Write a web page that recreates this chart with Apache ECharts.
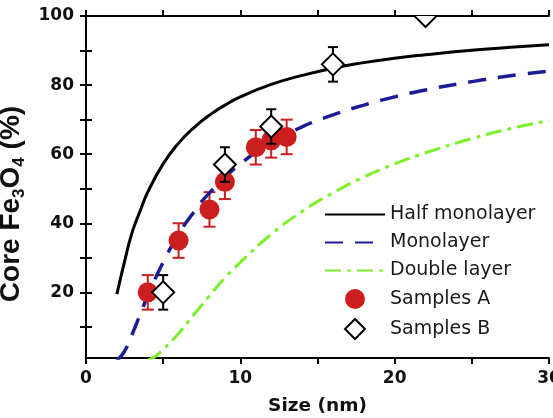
<!DOCTYPE html>
<html lang="en">
<head>
    <meta charset="UTF-8">
    <title>Core Fe3O4 vs size</title>
    <script src="https://cdn.jsdelivr.net/npm/echarts@6/dist/echarts.min.js"></script>
    <style>
        html, body { margin: 0; padding: 0; background: #fff; }
        #chart { width: 553px; height: 418px; }
    </style>
</head>
<body>
<div id="chart"></div>
<script>
    // model curves
    const halfX = [2, 2.5, 3, 3.5, 4, 5, 6, 7, 8, 9, 10, 12, 14, 16, 18, 20, 22, 25, 28, 30];
    const halfY = [19.5, 29, 37.5, 43.5, 49, 57.2, 63.2, 67.7, 71.3, 74.2, 76.6, 80.2, 82.8, 84.9, 86.5, 87.8, 88.8, 90.1, 91.1, 91.7];

    const monoX = [2, 2.5, 3, 3.5, 4, 5, 6, 7, 8, 10, 12, 14, 16, 18, 20, 22, 25, 28, 30];
    const monoY = [0.3, 3, 8, 13.5, 19, 28.7, 36.8, 43.3, 48.8, 57.2, 63.2, 67.9, 71.4, 74.2, 76.6, 78.6, 81, 83, 84];

    const dblX = [4, 4.5, 5, 6, 7, 8, 9, 10, 12, 14, 16, 18, 20, 22, 25, 28, 30];
    const dblY = [0.3, 1.5, 3.5, 8.1, 13.6, 19, 24.2, 28.7, 36.8, 43.4, 48.8, 53.4, 57.2, 60.4, 64.5, 67.9, 69.7];

    // measured samples
    const aX = [4, 6, 8, 9, 11, 12, 13];
    const aY = [20, 35, 44, 52, 62, 64, 65];
    const aErr = [5, 5, 5, 5, 5, 5, 5];

    const bX = [5, 9, 12, 16, 22];
    const bY = [20, 57, 68, 86, 100];
    const bErr = [5, 5, 5, 5, 0];

    const yLabels = [20, 40, 60, 80, 100];
    const yTicks = [10, 20, 30, 40, 50, 60, 70, 80, 90, 100];

    const zip = (xs, ys) => xs.map((x, i) => [x, ys[i]]);
    const errData = (xs, ys, es) => xs.map((x, i) => [x, ys[i], ys[i] - es[i], ys[i] + es[i]]);

    // vertical bar with caps; optionally a hollow diamond on top, clipped to the plot
    function errorBar(color, capW, diamond) {
        return function (params, api) {
            const x = api.value(0);
            const c = api.coord([x, api.value(1)]);
            const lo = api.coord([x, api.value(2)]);
            const hi = api.coord([x, api.value(3)]);
            const style = { stroke: color, lineWidth: 2 };
            const children = [];
            if (api.value(3) > api.value(2)) {
                children.push(
                    { type: 'line', shape: { x1: lo[0], y1: lo[1], x2: hi[0], y2: hi[1] }, style: style },
                    { type: 'line', shape: { x1: lo[0] - capW, y1: lo[1], x2: lo[0] + capW, y2: lo[1] }, style: style },
                    { type: 'line', shape: { x1: hi[0] - capW, y1: hi[1], x2: hi[0] + capW, y2: hi[1] }, style: style }
                );
            }
            if (diamond) {
                const r = 11;
                children.push({
                    type: 'polygon',
                    shape: { points: [[c[0], c[1] - r], [c[0] + r, c[1]], [c[0], c[1] + r], [c[0] - r, c[1]]] },
                    style: { fill: '#fff', stroke: '#000', lineWidth: 2 }
                });
            }
            const cs = params.coordSys;
            return {
                type: 'group',
                clipPath: { type: 'rect', shape: { x: cs.x, y: cs.y, width: cs.width, height: cs.height } },
                children: children
            };
        };
    }

    const tickFont = { fontFamily: 'DejaVu Sans', fontWeight: 'bold', fontSize: 17, color: '#111' };
    const axisLine = { show: true, lineStyle: { color: '#000', width: 2 } };
    const axisTick = { show: true, length: 6, lineStyle: { color: '#000', width: 2 } };
    const minorTick = { show: true, splitNumber: 2, length: 6, lineStyle: { color: '#000', width: 2 } };
    const noSymbol = { opacity: 0 };

    const chart = echarts.init(document.getElementById('chart'));
    const option = {
        animation: false,
        backgroundColor: '#fff',
        grid: { left: 86, right: 4, top: 16, bottom: 60, outerBoundsMode: 'none', containLabel: false },
        legend: {
            orient: 'vertical',
            left: 319,
            top: 200,
            itemWidth: 60,
            itemHeight: 20,
            itemGap: 9,
            textStyle: { fontFamily: 'DejaVu Sans', fontSize: 19, color: '#1a1a1a' },
            data: [
                { name: 'Half monolayer', itemStyle: noSymbol },
                { name: 'Monolayer', itemStyle: noSymbol },
                { name: 'Double layer', itemStyle: noSymbol },
                { name: 'Samples A' },
                { name: 'Samples B', icon: 'path://M0,-10L10,0L0,10L-10,0Z' }
            ]
        },
        xAxis: [
            {
                type: 'value', min: 0, max: 30, interval: 10, position: 'bottom',
                name: 'Size (nm)', nameLocation: 'middle', nameGap: 39,
                nameTextStyle: { fontFamily: 'DejaVu Sans', fontWeight: 'bold', fontSize: 18.5, color: '#111' },
                axisLine: axisLine, axisTick: axisTick, minorTick: minorTick,
                axisLabel: Object.assign({ margin: 12 }, tickFont),
                splitLine: { show: false }, minorSplitLine: { show: false }
            },
            {
                type: 'value', min: 0, max: 30, interval: 10, position: 'top',
                axisLine: axisLine, axisTick: axisTick, minorTick: minorTick,
                axisLabel: { show: false }, splitLine: { show: false }
            }
        ],
        yAxis: [
            {
                type: 'value', min: 1, max: 100, position: 'left',
                name: 'Core Fe{s|3}O{s|4} (%)', nameLocation: 'middle', nameGap: 45,
                nameTextStyle: {
                    fontFamily: 'Liberation Sans', fontWeight: 'bold', fontSize: 28, color: '#111',
                    padding: [0, 34, 0, 0],
                    rich: { s: { fontFamily: 'Liberation Sans', fontSize: 17, verticalAlign: 'bottom', color: '#111', padding: [0, 0, -2, 0] } }
                },
                axisLine: axisLine,
                axisTick: Object.assign({ customValues: yTicks }, axisTick),
                axisLabel: Object.assign({ margin: 12, customValues: yLabels }, tickFont),
                splitLine: { show: false }
            },
            {
                type: 'value', min: 1, max: 100, position: 'right',
                axisLine: axisLine,
                axisTick: Object.assign({ customValues: yTicks }, axisTick),
                axisLabel: { show: false }, splitLine: { show: false }
            }
        ],
        series: [
            {
                name: 'Half monolayer', type: 'line', data: zip(halfX, halfY),
                symbol: 'none', smooth: true, clip: true,
                lineStyle: { color: '#000', width: 3 }, itemStyle: { color: '#000' }
            },
            {
                name: 'Monolayer', type: 'line', data: zip(monoX, monoY),
                symbol: 'none', smooth: true, clip: true,
                lineStyle: { color: '#1c1c96', width: 3.5, type: [18, 12] }, itemStyle: { color: '#1c1c96' }
            },
            {
                name: 'Double layer', type: 'line', data: zip(dblX, dblY),
                symbol: 'none', smooth: true, clip: true,
                lineStyle: { color: '#7cf028', width: 3, type: [16, 6, 4, 6] }, itemStyle: { color: '#7cf028' }
            },
            {
                type: 'custom', data: errData(aX, aY, aErr), encode: { x: 0, y: [2, 3] },
                renderItem: errorBar('#cc1e1e', 6, false), z: 3, silent: true
            },
            {
                name: 'Samples A', type: 'scatter', data: zip(aX, aY), symbol: 'circle', symbolSize: 20,
                itemStyle: { color: '#cc1e1e', opacity: 1 }, z: 4
            },
            {
                type: 'custom', data: errData(bX, bY, bErr), encode: { x: 0, y: [2, 3] },
                renderItem: errorBar('#000', 5, true), z: 5, silent: true
            },
            {
                // legend entry only; the diamonds are drawn by the custom series above
                name: 'Samples B', type: 'scatter', data: [], symbol: 'diamond',
                itemStyle: { color: '#fff', borderColor: '#000', borderWidth: 2, opacity: 1 }
            }
        ]
    };
    chart.setOption(option);
    window.addEventListener('resize', () => {
        chart.resize();
    });
</script>
</body>
</html>
